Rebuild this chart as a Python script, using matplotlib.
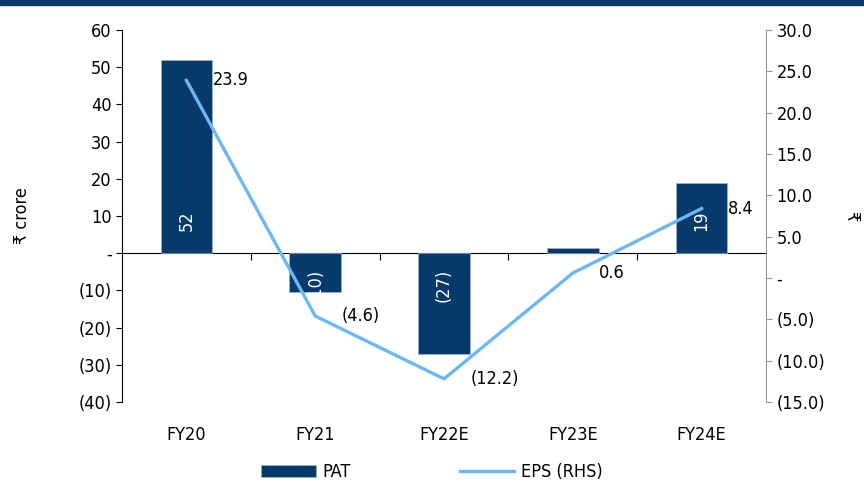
import matplotlib
matplotlib.use("Agg")
from matplotlib import pyplot as plt
from matplotlib.patches import Rectangle
from matplotlib.ticker import FuncFormatter

plt.rcParams['font.family'] = ['DejaVu Sans']
plt.rcParams['font.stretch'] = 'condensed'

years = ["FY20", "FY21", "FY22E", "FY23E", "FY24E"]
pat = [52, -10.5, -27, 1.3, 19]
pat_labels = ["52", "(10)", "(27)", "", "19"]
eps = [23.9, -4.6, -12.2, 0.6, 8.4]
eps_labels = ["23.9", "(4.6)", "(12.2)", "0.6", "8.4"]

bar_col = "#053a6b"
line_col = "#6cb8f6"

def fmt_int(v, pos):
    if abs(v) < 1e-9:
        return "-"
    return "(%d)" % abs(v) if v < 0 else "%d" % v

def fmt_dec(v, pos):
    if abs(v) < 1e-9:
        return "-"
    return "(%.1f)" % abs(v) if v < 0 else "%.1f" % v

fig = plt.figure(figsize=(8.64, 4.83), dpi=100)
fig.patches.append(Rectangle((0, 0.989), 1, 0.011, transform=fig.transFigure,
                             color="#0a3a6b", zorder=10))
ax = fig.add_axes([0.1412, 0.1677, 0.7454, 0.7702])
ax2 = ax.twinx()

x = range(len(years))
ax.bar(x, pat, width=0.40, color=bar_col, edgecolor="#9fb4cc", linewidth=0.5,
       zorder=2, label="PAT")
for i, (v, t) in enumerate(zip(pat, pat_labels)):
    if not t:
        continue
    yy = 8.7 if v > 0 else -8.7
    ax.text(i, yy, t, rotation=90, color="white", ha="center", va="center",
            fontsize=13, zorder=3)

ax.set_xlim(-0.5, 4.5)
ax.set_ylim(-40, 60)
ax.set_yticks(range(-40, 61, 10))
ax.yaxis.set_major_formatter(FuncFormatter(fmt_int))
ax.set_xticks(list(x))
ax.set_xticklabels(years)
ax.tick_params(axis="x", length=0, pad=17, labelsize=13)
ax.tick_params(axis="y", length=4, labelsize=13, direction="out")
for s in ["top", "right", "bottom"]:
    ax.spines[s].set_visible(False)
ax.spines["left"].set_color("black")
ax.set_ylabel("₹ crore", fontsize=13, labelpad=34)

# zero line with category boundary ticks
sec = ax.secondary_xaxis(0.4)
sec.set_xticks([0.5, 1.5, 2.5, 3.5])
sec.tick_params(length=5, labelbottom=False, labeltop=False, color="black")
sec.spines["bottom"].set_color("black")

ax2.plot(x, eps, color=line_col, lw=2.4, label="EPS (RHS)", zorder=4)
for i, (v, t) in enumerate(zip(eps, eps_labels)):
    ax2.annotate(t, (i, v), xytext=(19, 0), textcoords="offset points",
                 ha="left", va="center", fontsize=13)
ax2.set_ylim(-15, 30)
ax2.set_yticks(range(-15, 31, 5))
ax2.yaxis.set_major_formatter(FuncFormatter(fmt_dec))
ax2.tick_params(axis="y", length=4, labelsize=13, color="#999999")
for s in ["top", "left", "bottom"]:
    ax2.spines[s].set_visible(False)
ax2.spines["right"].set_color("#999999")
ax2.set_ylabel("₹", fontsize=13, rotation=270, labelpad=25)

h1, l1 = ax.get_legend_handles_labels()
h2, l2 = ax2.get_legend_handles_labels()
fig.legend(h1 + h2, l1 + l2, loc="center", bbox_to_anchor=(0.5, 0.022), ncol=2,
           frameon=False, fontsize=13, handlelength=3.0, columnspacing=6,
           handletextpad=0.4)

fig.savefig("out.png", dpi=100)
